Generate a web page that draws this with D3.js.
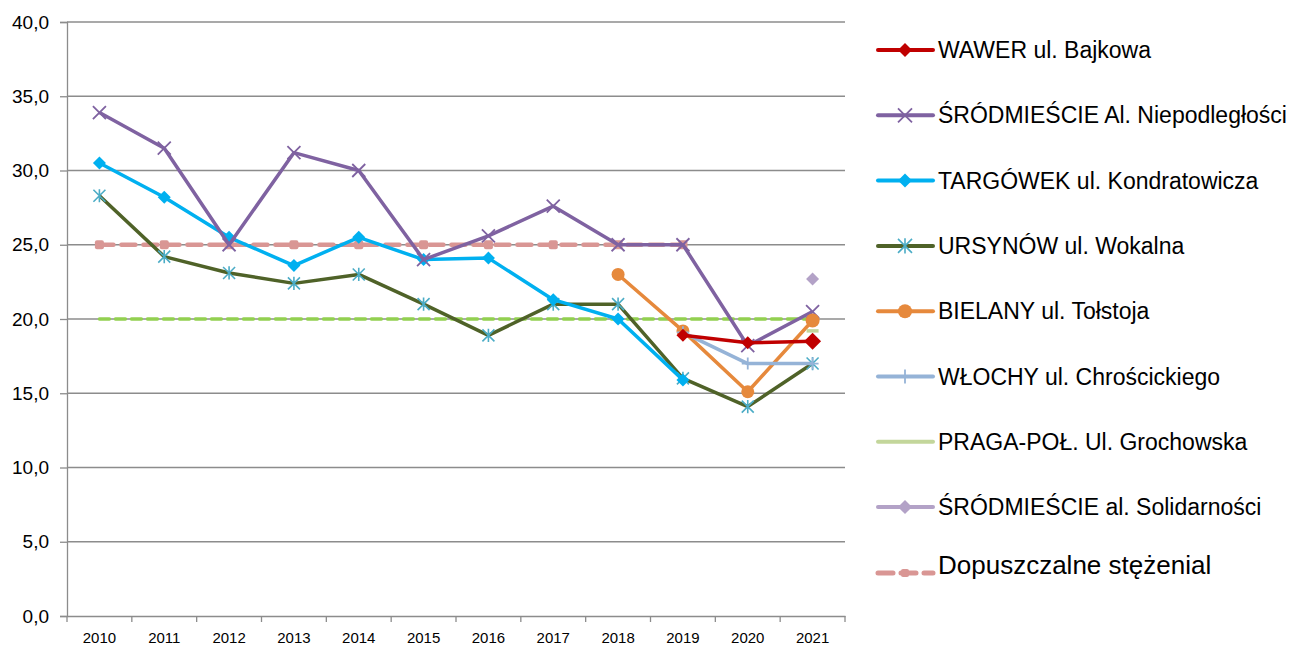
<!DOCTYPE html>
<html>
<head>
<meta charset="utf-8">
<script src="https://cdn.jsdelivr.net/npm/d3@7"></script>
<style>
  body { margin: 0; background: #fff; }
  svg { font-family: "Liberation Sans", Arial, sans-serif; }
  .ytick text { font-size: 19px; }
  .xtick text { font-size: 15px; }
</style>
</head>
<body>
<div id="vis"></div>
<script>
const WIDTH = 1294;
const HEIGHT = 648;
const MARGINS = { left: 67, right: 449, top: 22, bottom: 32 };

const years = ["2010","2011","2012","2013","2014","2015","2016","2017","2018","2019","2020","2021"];
const yTicks = [0, 5, 10, 15, 20, 25, 30, 35, 40];

const wawer       = [null,null,null,null,null,null,null,null,null,18.9,18.4,18.5];
const srodNiep    = [33.9,31.5,25.0,31.2,30.0,24.0,25.6,27.6,25.0,25.0,18.2,20.5];
const targowek    = [30.5,28.2,25.5,23.6,25.5,24.0,24.1,21.3,20.0,15.9,null,null];
const ursynow     = [28.3,24.2,23.1,22.4,23.0,21.0,18.9,21.0,21.0,16.0,14.1,17.0];
const bielany     = [null,null,null,null,null,null,null,null,23.0,19.2,15.1,19.9];
const wlochy      = [null,null,null,null,null,null,null,null,null,19.1,17.0,17.0];
const praga       = [null,null,null,null,null,null,null,null,null,null,null,19.2];
const srodSolid   = [null,null,null,null,null,null,null,null,null,null,null,22.7];
const limit25     = [25,25,25,25,25,25,25,25,25,25,null,null];
const limit20     = [20,20,20,20,20,20,20,20,20,20,20,20];

const series = [
  { name: "WAWER ul. Bajkowa", values: wawer, color: "#c00000", marker: "diamond", mcolor: "#c00000", legend: true },
  { name: "ŚRÓDMIEŚCIE Al. Niepodległości", values: srodNiep, color: "#7f62a1", marker: "x", mcolor: "#7f62a1", legend: true },
  { name: "TARGÓWEK ul. Kondratowicza", values: targowek, color: "#00b0f0", marker: "diamond", mcolor: "#00b0f0", legend: true },
  { name: "URSYNÓW ul. Wokalna", values: ursynow, color: "#4f6228", marker: "star", mcolor: "#4bacc6", legend: true },
  { name: "BIELANY ul. Tołstoja", values: bielany, color: "#e6893c", marker: "circle", mcolor: "#e6893c", legend: true },
  { name: "WŁOCHY ul. Chrościckiego", values: wlochy, color: "#95b3d7", marker: "plus", mcolor: "#95b3d7", legend: true },
  { name: "PRAGA-POŁ. Ul. Grochowska", values: praga, color: "#c3d69b", marker: "dash", mcolor: "#c3d69b", legend: true },
  { name: "ŚRÓDMIEŚCIE al. Solidarności", values: srodSolid, color: "#b3a2c7", marker: "diamond", mcolor: "#b3a2c7", legend: true },
  { name: "Dopuszczalne stężenial", values: limit25, color: "#d99694", marker: "square", mcolor: "#d99694", legend: true, dashed: true },
  { name: "limit 20", values: limit20, color: "#92d050", marker: null, legend: false, dashed: true, thin: true }
];

const svg = d3.select("#vis").append("svg")
  .attr("width", WIDTH).attr("height", HEIGHT);

const x = d3.scaleBand().domain(years)
  .range([MARGINS.left, WIDTH - MARGINS.right]);
const y = d3.scaleLinear().domain([0, 40])
  .range([HEIGHT - MARGINS.bottom, MARGINS.top]);
const cx = d => x(d) + x.bandwidth() / 2;

// grid
svg.append("g").selectAll("line").data(yTicks.slice(1)).enter().append("line")
  .attr("x1", MARGINS.left).attr("x2", WIDTH - MARGINS.right)
  .attr("y1", d => y(d)).attr("y2", d => y(d))
  .attr("stroke", "#8c8c8c").attr("stroke-width", 1.3);

// axes
const yAxis = svg.append("g")
  .attr("class", "ytick")
  .attr("transform", `translate(${MARGINS.left},0)`)
  .call(d3.axisLeft(y).tickValues(yTicks).tickSize(7).tickPadding(11)
    .tickFormat(d => d3.format(".1f")(d).replace(".", ",")));
yAxis.selectAll("text").attr("fill", "#000");
yAxis.selectAll("line, path").attr("stroke", "#8c8c8c").attr("stroke-width", 1.3);

const xAxis = svg.append("g")
  .attr("class", "xtick")
  .attr("transform", `translate(0,${y(0)})`)
  .call(d3.axisBottom(x).tickSize(0).tickPadding(16));
xAxis.selectAll("text").attr("fill", "#000");
xAxis.select(".domain").attr("stroke", "#8c8c8c").attr("stroke-width", 1.3);
// tick marks between categories
xAxis.selectAll(".sep").data(years.concat(["end"])).enter().append("line")
  .attr("x1", (d, i) => MARGINS.left + i * x.step())
  .attr("x2", (d, i) => MARGINS.left + i * x.step())
  .attr("y1", 0).attr("y2", 6)
  .attr("stroke", "#8c8c8c").attr("stroke-width", 1.3);

function drawMarker(g, type, color, px, py, s) {
  if (type === "diamond") {
    g.append("path").attr("d", `M${px},${py - s}L${px + s},${py}L${px},${py + s}L${px - s},${py}Z`).attr("fill", color);
  } else if (type === "circle") {
    g.append("circle").attr("cx", px).attr("cy", py).attr("r", s).attr("fill", color);
  } else if (type === "x") {
    g.append("path").attr("d", `M${px - s},${py - s}L${px + s},${py + s}M${px - s},${py + s}L${px + s},${py - s}`)
      .attr("stroke", color).attr("stroke-width", 1.8);
  } else if (type === "plus") {
    g.append("path").attr("d", `M${px},${py - s}L${px},${py + s}M${px - s},${py}L${px + s},${py}`)
      .attr("stroke", color).attr("stroke-width", 1.8);
  } else if (type === "star") {
    g.append("path").attr("d", `M${px - s},${py - s}L${px + s},${py + s}M${px - s},${py + s}L${px + s},${py - s}M${px},${py - s * 1.1}L${px},${py + s * 1.1}`)
      .attr("stroke", color).attr("stroke-width", 1.6);
  } else if (type === "dash") {
    g.append("path").attr("d", `M${px - s},${py}L${px + s},${py}`)
      .attr("stroke", color).attr("stroke-width", 3.5);
  } else if (type === "square") {
    g.append("rect").attr("x", px - s).attr("y", py - s).attr("width", 2 * s).attr("height", 2 * s)
      .attr("rx", 2).attr("fill", color);
  }
}

const line = d3.line()
  .defined(d => d.v !== null)
  .x(d => cx(d.year)).y(d => y(d.v));

const msize = { diamond: 6.5, circle: 6.5, x: 6.5, plus: 6, star: 6, dash: 6, square: 4.5 };

// draw order: limit lines behind data lines
const order = [9, 8, 3, 2, 1, 4, 5, 0, 6, 7];
order.forEach(i => {
  const s = series[i];
  const pts = years.map((yr, k) => ({ year: yr, v: s.values[k] }));
  const g = svg.append("g");
  g.append("path").datum(pts).attr("d", line)
    .attr("fill", "none").attr("stroke", s.color)
    .attr("stroke-width", s.thin ? 3.5 : (s.dashed ? 4.5 : 3.5))
    .attr("stroke-dasharray", s.dashed ? (s.thin ? "10,6" : "14,8") : null)
    .attr("stroke-linecap", s.dashed ? "round" : "butt")
    .attr("stroke-linejoin", "round");
  if (s.marker) {
    pts.filter(d => d.v !== null).forEach(d => {
      let sz = msize[s.marker];
      if (i === 0 && d.year === "2021") sz = 8.5;
      if (i === 4 && d.year === "2021") sz = 7;
      drawMarker(g, s.marker, s.mcolor, cx(d.year), y(d.v), sz);
    });
  }
});

// legend
const legend = svg.append("g");
const legItems = series.filter(s => s.legend);
legItems.forEach((s, i) => {
  const ly = s.dashed ? 565 : 50 + i * 65.3;
  const gg = legend.append("g");
  if (s.dashed) {
    gg.append("path").attr("d", `M878,${ly + 8}L933,${ly + 8}`)
      .attr("stroke", s.color).attr("stroke-width", 5)
      .attr("stroke-dasharray", "15,8").attr("stroke-linecap", "round");
    drawMarker(gg, "square", s.color, 905, ly + 8, 4);
  } else {
    gg.append("path").attr("d", `M878,${ly}L933,${ly}`)
      .attr("stroke", s.color).attr("stroke-width", 4).attr("stroke-linecap", "round");
    drawMarker(gg, s.marker, s.mcolor, 905, ly, s.marker === "dash" ? 0 : 7);
  }
  gg.append("text")
    .attr("x", 938).attr("y", ly)
    .attr("dy", "0.35em")
    .attr("font-size", s.dashed ? 26 : 23)
    .attr("fill", "#000")
    .text(s.name);
});
</script>
</body>
</html>
